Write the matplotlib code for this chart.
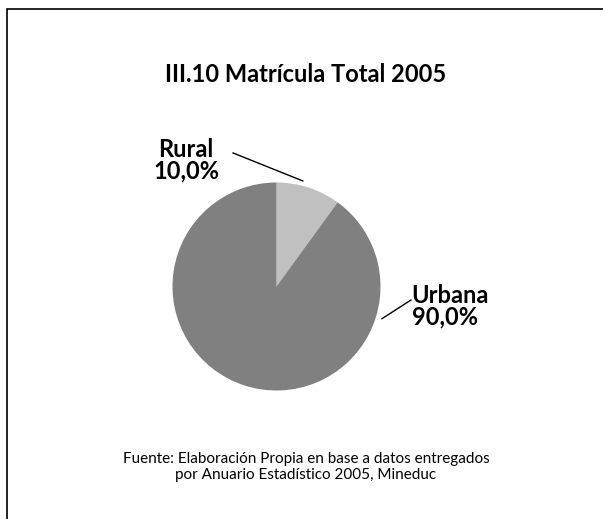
import numpy as np
import matplotlib
matplotlib.use("Agg")
import matplotlib.pyplot as plt
from matplotlib.patches import Rectangle

# data
categories = ["Rural", "Urbana"]
values = [10.0, 90.0]
colours = ["#c0c0c0", "#808080"]
title = "III.10 Matrícula Total 2005"
source = ("Fuente: Elaboración Propia en base a datos entregados\n"
          "por Anuario Estadístico 2005, Mineduc")

plt.rcParams['font.family'] = ['Lato', 'DejaVu Sans']

W, H = 603, 519
fig = plt.figure(figsize=(W / 100, H / 100), dpi=100)

# frame around the chart area (runs off right and bottom)
fig.patches.append(Rectangle((7 / W, -0.1), 1.2, 1 - 9 / H + 0.1,
                             transform=fig.transFigure, fill=False,
                             edgecolor="black", linewidth=1.2))

# pie axes, positioned in pixels
cx, cy, r = 276.5, 286.5, 104
ax = fig.add_axes([(cx - r) / W, (H - cy - r) / H, 2 * r / W, 2 * r / H])
wedges, _ = ax.pie(values, colors=colours, startangle=90, counterclock=False,
                   radius=1.0, wedgeprops=dict(linewidth=0))
ax.set_xlim(-1, 1)
ax.set_ylim(-1, 1)
ax.set_aspect("equal")
ax.axis("off")

fig.text(306 / W, 1 - 75 / H, title, ha="center", va="center",
         fontsize=17, fontweight="bold")

vals_txt = [f"{v:.1f}".replace(".", ",") + "%" for v in values]

def leader(wedge, ang_off, rr, start):
    # line from label towards the wedge edge
    mid = np.deg2rad((wedge.theta1 + wedge.theta2) / 2 + ang_off)
    ax.plot([start[0], rr * np.cos(mid)], [start[1], rr * np.sin(mid)],
            color="black", lw=1, clip_on=False)

# Rural
ax.text(-0.87, 1.216, f"{categories[0]}\n{vals_txt[0]}", ha="center",
        va="center", fontsize=17, fontweight="bold", linespacing=0.95)
leader(wedges[0], 4, 1.046, (-0.418, 1.284))

# Urbana
ax.text(1.30, -0.19, f"{categories[1]}\n{vals_txt[1]}", ha="left",
        va="center", fontsize=17, fontweight="bold", linespacing=0.95)
leader(wedges[1], 91, 1.06, (1.293, -0.13))

fig.text(306 / W, 1 - 467 / H, source, ha="center", va="center",
         fontsize=11, linespacing=1.25)

fig.savefig("out.png", dpi=100, facecolor="white")
